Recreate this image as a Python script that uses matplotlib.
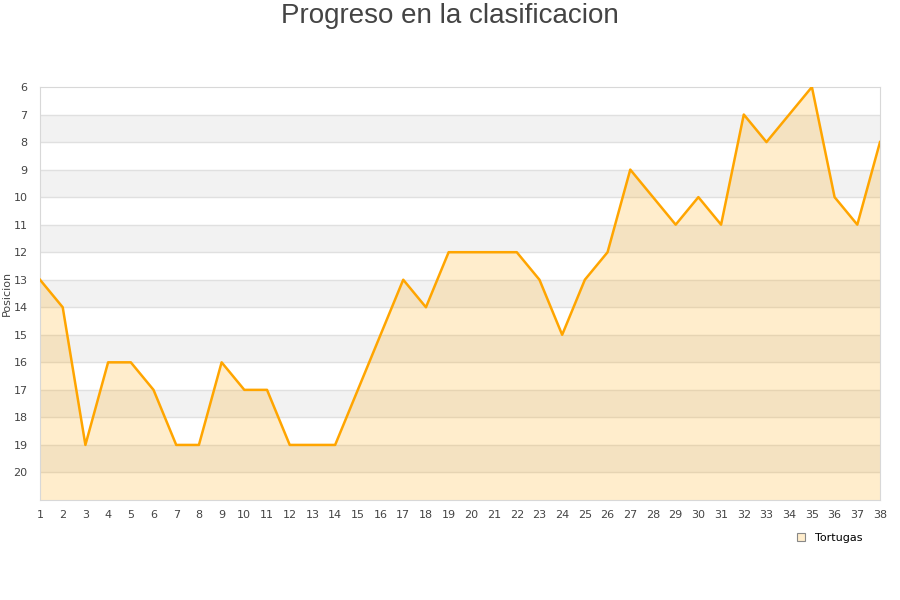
import matplotlib.pyplot as plt
from matplotlib.lines import Line2D

TITLE = "Progreso en la clasificacion"
Y_LABEL = "Posicion"
SERIES_NAME = "Tortugas"

jornadas = list(range(1, 39))
posiciones = [13, 14, 19, 16, 16, 17, 19, 19, 16, 17,
              17, 19, 19, 19, 17, 15, 13, 14, 12, 12,
              12, 12, 13, 15, 13, 12, 9, 10, 11, 10,
              11, 7, 8, 7, 6, 10, 11, 8]
y_ticks = list(range(6, 21))

LINE_COLOR = "#FFA500"
TEXT_COLOR = "#444444"


def main():
    fig = plt.figure(figsize=(9, 6), dpi=100)
    ax = fig.add_axes([40 / 900, 100 / 600, 840 / 900, 413 / 600])

    y_min, y_max = 6, 21
    ax.set_xlim(jornadas[0], jornadas[-1])
    ax.set_ylim(y_max, y_min)

    # bandas grises alternas
    for start in range(7, 21, 2):
        ax.axhspan(start, start + 1, color="#F2F2F2", zorder=0, lw=0)
    for y in range(7, 21):
        ax.axhline(y, color="#E0E0E0", lw=1, zorder=1)

    ax.fill_between(jornadas, posiciones, y_max, color=LINE_COLOR,
                    alpha=0.2, lw=0, zorder=2)
    ax.plot(jornadas, posiciones, color=LINE_COLOR, lw=1.8, zorder=3)

    ax.set_xticks(jornadas)
    ax.set_yticks(y_ticks)
    ax.tick_params(length=0, labelsize=8, colors=TEXT_COLOR, pad=7)
    ax.tick_params(axis="y", pad=9)
    for side in ["top", "right", "bottom", "left"]:
        ax.spines[side].set_color("#D8D8D8")

    ax.set_ylabel(Y_LABEL, fontsize=8, color=TEXT_COLOR)
    ax.yaxis.set_label_coords(-0.034, 0.5)

    fig.text(0.5, 0.995, TITLE, ha="center", va="top", fontsize=20,
             color=TEXT_COLOR, family="Liberation Sans")

    handle = Line2D([], [], marker="s", ls="none", markersize=6,
                    markerfacecolor="#FFEDCC", markeredgecolor="#888888",
                    markeredgewidth=0.8)
    fig.legend([handle], [SERIES_NAME], loc="center",
               bbox_to_anchor=(826 / 900, 1 - 538 / 600), frameon=False,
               fontsize=8, handletextpad=0.3, borderaxespad=0)

    fig.savefig("out.png", dpi=100)
    plt.close(fig)


if __name__ == "__main__":
    main()
